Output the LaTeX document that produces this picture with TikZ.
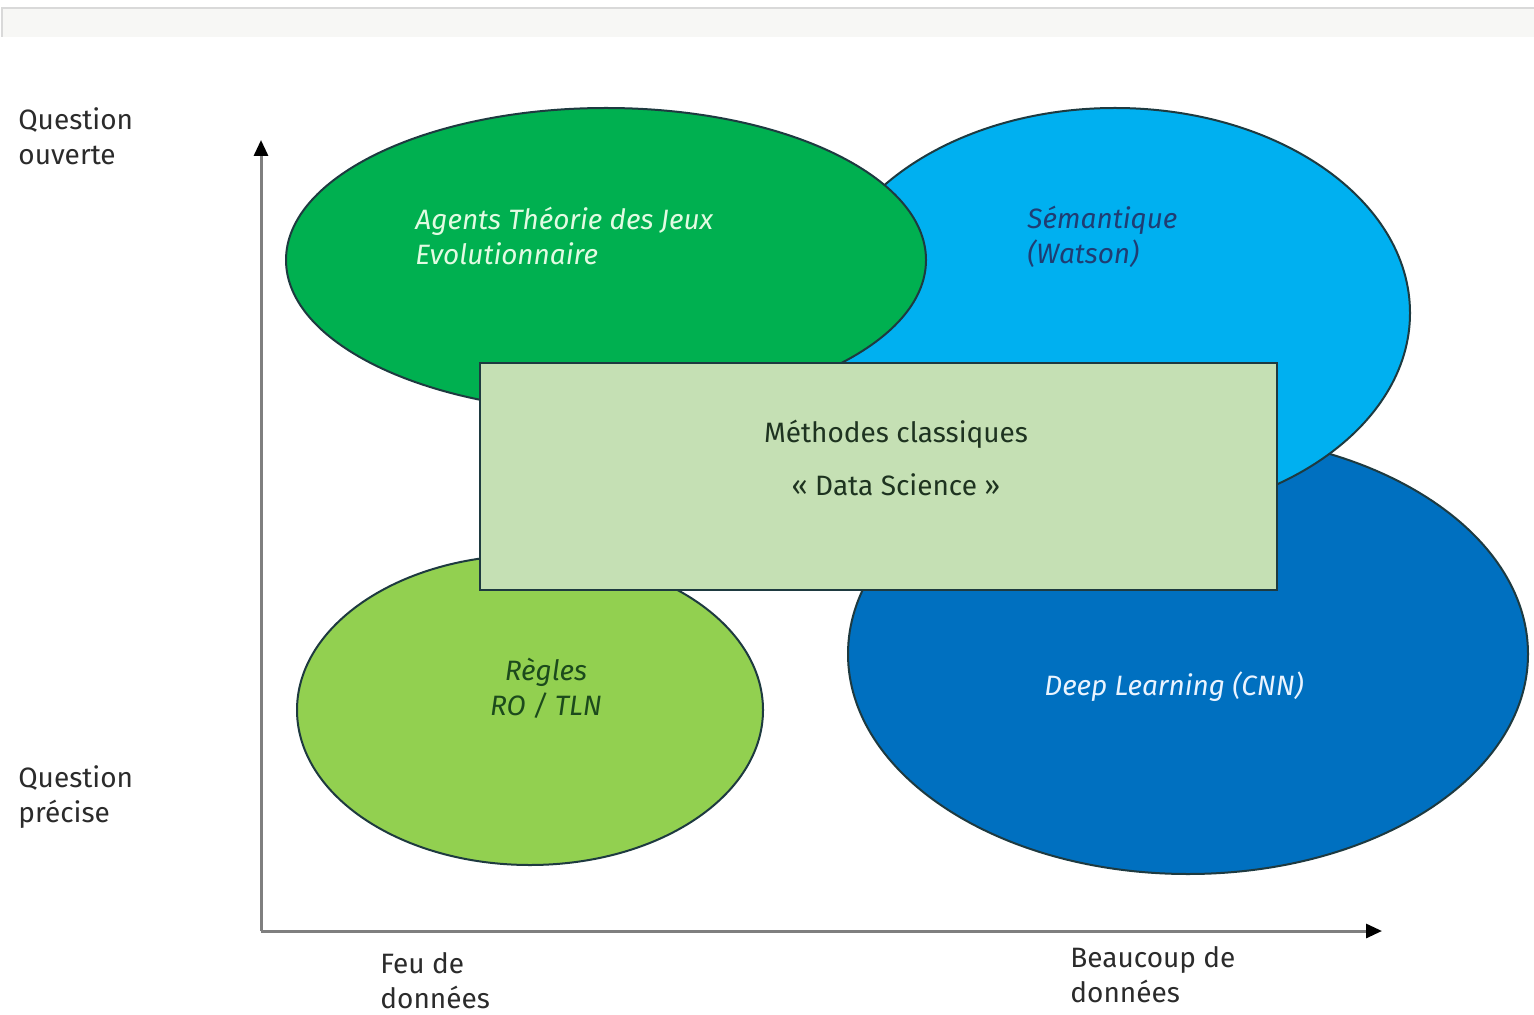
\documentclass[tikz,border=0pt]{standalone}
\usepackage{fontspec}
\setmainfont{Fira Sans}
\usetikzlibrary{arrows.meta,shapes.geometric}
\definecolor{bandfill}{HTML}{F7F7F5}
\definecolor{bandline}{HTML}{D9D9D9}
\definecolor{cgreen}{HTML}{00B050}
\definecolor{clblue}{HTML}{00B0F0}
\definecolor{cdblue}{HTML}{0070C0}
\definecolor{clgreen}{HTML}{92D050}
\definecolor{crect}{HTML}{C5E0B4}
\definecolor{outline}{HTML}{1E3A40}
\definecolor{axisgray}{HTML}{7F7F7F}
\definecolor{txtdark}{HTML}{2B2B2B}
\definecolor{txtmint}{HTML}{E2FBE2}
\definecolor{txtnavy}{HTML}{1F3D73}
\definecolor{txtrect}{HTML}{1E3320}
\definecolor{txtgreen}{HTML}{1C4A1C}
\definecolor{txtwhite}{HTML}{EAF4FF}
\begin{document}
\begin{tikzpicture}[x=0.5pt,y=-0.5pt,
  blob/.style={ellipse, draw=outline, line width=1pt, inner sep=0pt},
  lbl/.style={font=\fontsize{14}{17.5}\selectfont, inner sep=0pt, align=left, text=txtdark},
  inlbl/.style={font=\fontsize{14}{17.5}\selectfont\itshape, inner sep=0pt, align=left},
  axisline/.style={draw=axisgray, line width=1.5pt, -{Triangle[length=8pt,width=7pt,color=black]}}]
\useasboundingbox (0,0) rectangle (1534,1015);
\fill[white] (0,0) rectangle (1534,1015);
% top band
\fill[bandfill] (2,8) rectangle (1534,37);
\draw[bandline, line width=0.6pt] (2,37) -- (2,8) -- (1534,8);
% ellipses
\node[blob, fill=cdblue, minimum width=340pt, minimum height=220pt] (deep) at (1188,654) {};
\node[blob, fill=clblue, minimum width=295pt, minimum height=205pt] (sem) at (1115,313) {};
\node[blob, fill=cgreen, minimum width=320pt, minimum height=152pt] (agents) at (606,260) {};
\node[blob, fill=clgreen, minimum width=233pt, minimum height=155pt] (regles) at (530,710) {};
% central rectangle
\node[draw=outline, line width=1.3pt, fill=crect, minimum width=398.5pt, minimum height=113.5pt, inner sep=0pt] (classic) at (878.5,476.5) {};
% axes
\coordinate (origin) at (261,931);
\coordinate (ytop) at (261,140);
\coordinate (xend) at (1382,931);
\draw[axisline] (origin) -- (ytop);
\draw[axisline] (origin) -- (xend);
% texts
\node[lbl, anchor=west] (qo) at (18,136) {Question\\ouverte};
\node[lbl, anchor=west] (qp) at (18,797) {Question\\précise};
\node[lbl, anchor=west] (peu) at (380,981) {Feu de\\données};
\node[lbl, anchor=west] (beau) at (1070,975) {Beaucoup de\\données};
\node[inlbl, anchor=west, text=txtmint] (tagents) at (415,236) {Agents Théorie des Jeux\\Evolutionnaire};
\node[inlbl, anchor=west, text=txtnavy] (tsem) at (1027,237) {Sémantique\\(Watson)};
\node[inlbl, align=center, text=txtgreen] (tregles) at (546,688) {Règles\\RO / TLN};
\node[inlbl, align=center, text=txtwhite] (tdeep) at (1174,687) {Deep Learning (CNN)};
\node[lbl, align=center, text=txtrect] (tclassic) at (896,458) {Méthodes classiques\\[9pt]« Data Science »};
\end{tikzpicture}
\end{document}
